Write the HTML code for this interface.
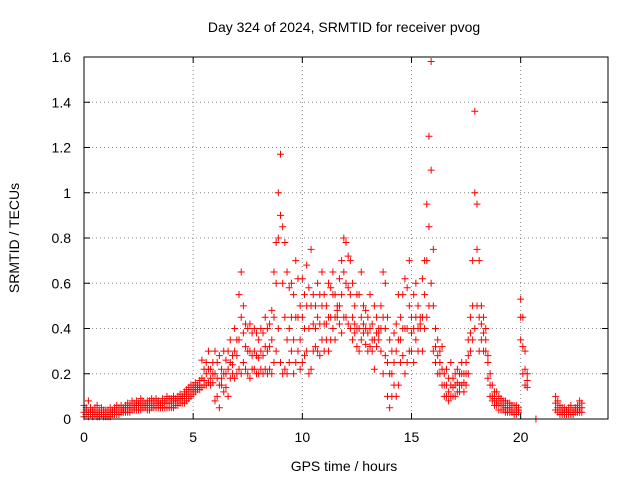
<!DOCTYPE html>
<html><head><meta charset="utf-8"><style>
body{margin:0;background:#fff}
svg text{font-family:"Liberation Sans",sans-serif;font-size:14px;fill:#000}
</style></head><body>
<svg width="640" height="480" id="c">
<rect width="640" height="480" fill="#fff"/>
<text x="344" y="32" text-anchor="middle">Day 324 of 2024, SRMTID for receiver pvog</text>
<text x="344" y="471" text-anchor="middle">GPS time / hours</text>
<text transform="translate(19,238) rotate(-90)" text-anchor="middle">SRMTID / TECUs</text>
<g id="grid"></g><g id="ticks"></g><g id="marks"></g>
<rect x="84" y="57" width="524" height="362" fill="none" stroke="#000" stroke-width="1"/>
</svg>
<script>
const xTicks=[0,5,10,15,20];
const yTicks=[0,0.2,0.4,0.6,0.8,1,1.2,1.4,1.6];
const yTickLabels=["0","0.2","0.4","0.6","0.8","1","1.2","1.4","1.6"];
const tStep=0.1;
const loVals=[.01,.02,.01,.02,.01,.02,.01,.01,.02,.01,
.01,.01,.01,.02,.02,.02,.02,.03,.03,.03,
.03,.03,.04,.04,.04,.04,.04,.05,.05,.04,
.04,.05,.05,.05,.05,.05,.05,.05,.05,.05,
.05,.05,.06,.06,.07,.07,.07,.08,.09,.1,
.11,.12,.13,.13,.14,.15,.15,.16,.15,.16,
.08,.1,.05,.15,.12,.14,.1,.18,.2,.18,
.2,.22,.2,.25,.22,.2,.18,.22,.22,.2,
.2,.22,.2,.22,.2,.22,.2,.25,.3,.4,
.25,.2,.22,.2,.25,.3,.2,.25,.3,.22,
.25,.28,.3,.2,.22,.3,.32,.3,.28,.35,
.3,.35,.3,.35,.4,.35,.45,.42,.38,.45,
.45,.42,.4,.35,.38,.32,.3,.35,.38,.33,
.3,.32,.3,.22,.32,.35,.3,.2,.28,.1,
.05,.1,.15,.1,.15,.25,.28,.2,.25,.3,
.3,.25,.35,.3,.4,.3,.4,.45,.5,.6,
.3,.25,.2,.2,.15,.1,.1,.08,.1,.1,
.1,.12,.12,.15,.12,.15,.2,.3,.35,.4,
.5,.3,.35,.3,.3,.25,.1,.08,.06,.06,
.04,.04,.04,.03,.03,.03,.03,.02,.02,.03,
.35,.2,.15,.14,null,null,null,0,null,null,
null,null,null,null,null,null,.04,.03,.02,.02,
.02,.02,.02,.02,.02,.03,.03,.03,.03];
const midVals=[.03,.04,.03,.03,.03,.03,.03,.02,.03,.02,
.03,.02,.03,.03,.03,.04,.04,.04,.04,.05,
.05,.05,.06,.05,.06,.06,.06,.06,.06,.06,
.06,.07,.06,.07,.07,.06,.07,.07,.07,.07,
.07,.08,.08,.08,.09,.09,.1,.11,.12,.13,
.13,.14,.14,.15,.18,.17,.2,.22,.18,.2,
.2,.18,.15,.18,.2,.2,.22,.25,.24,.3,
.28,.35,.45,.38,.32,.3,.3,.28,.3,.28,
.27,.3,.28,.32,.3,.32,.35,.45,.6,.8,
.9,.6,.45,.35,.4,.45,.35,.45,.45,.35,
.45,.4,.5,.4,.5,.42,.4,.45,.42,.5,
.42,.42,.45,.45,.55,.45,.48,.5,.55,.65,
.6,.58,.55,.45,.42,.4,.4,.45,.42,.4,
.38,.4,.35,.35,.38,.38,.4,.45,.4,.25,
.2,.2,.25,.3,.35,.35,.4,.4,.4,.5,
.38,.4,.45,.4,.42,.45,.55,.7,.85,1.1,
.5,.32,.28,.25,.22,.15,.15,.12,.15,.14,
.15,.16,.15,.2,.16,.2,.28,.38,.5,1.0,
.75,.45,.42,.38,.35,.18,.15,.1,.09,.08,
.07,.06,.06,.05,.05,.05,.04,.04,.04,.04,
.45,.32,.22,.17,null,null,null,null,null,null,
null,null,null,null,null,null,.07,.05,.04,.03,
.03,.03,.03,.04,.03,.04,.04,.05,.05];
const hiVals=[.06,.05,.08,.05,.04,.05,.06,.04,.05,.04,
.04,.04,.05,.04,.05,.06,.05,.06,.05,.06,
.07,.06,.08,.07,.08,.07,.09,.08,.07,.08,
.08,.09,.08,.09,.08,.07,.09,.08,.1,.09,
.09,.1,.09,.1,.11,.1,.12,.13,.14,.15,
.15,.16,.15,.17,.26,.22,.25,.3,.22,.25,
.3,.25,.28,.22,.3,.26,.3,.35,.28,.4,
.35,.55,.65,.5,.42,.4,.42,.38,.4,.38,
.35,.4,.38,.45,.4,.42,.48,.65,.78,1.0,
1.17,.85,.78,.65,.58,.6,.55,.7,.62,.5,
.62,.55,.68,.58,.75,.55,.5,.6,.55,.65,
.55,.5,.6,.58,.65,.55,.5,.62,.7,.8,
.78,.72,.7,.6,.5,.55,.55,.65,.5,.48,
.45,.55,.42,.5,.45,.4,.5,.65,.6,.45,
.35,.3,.38,.42,.55,.45,.55,.62,.58,.7,
.45,.55,.6,.5,.45,.62,.7,.95,1.25,1.58,
.75,.4,.35,.3,.32,.2,.22,.18,.25,.18,
.2,.22,.2,.25,.2,.25,.35,.45,.7,1.36,
.95,.7,.5,.45,.4,.28,.2,.15,.12,.12,
.1,.09,.08,.08,.07,.07,.06,.06,.06,.05,
.53,.45,.3,.2,null,null,null,null,null,null,
null,null,null,null,null,null,.1,.08,.06,.05,
.05,.04,.05,.06,.04,.05,.06,.08,.07];
const X0=84,X1=608,Y0=419,Y1=57,XMAX=24,YMAX=1.6;
const sx=v=>X0+v/XMAX*(X1-X0), sy=v=>Y0-v/YMAX*(Y0-Y1);
const NS="http://www.w3.org/2000/svg";
const grid=document.getElementById('grid'),ticks=document.getElementById('ticks'),marks=document.getElementById('marks');
function mk(tag,a,p){const e=document.createElementNS(NS,tag);for(const k in a)e.setAttribute(k,a[k]);p.appendChild(e);return e;}
xTicks.forEach(v=>{const x=sx(v);
 if(v>0){const g=mk('line',{x1:x,x2:x,y1:Y0,y2:Y1,stroke:'#888','stroke-dasharray':'1,3'},grid);
 
 }
 mk('line',{x1:x,x2:x,y1:Y0,y2:Y0-6,stroke:'#000'},ticks);
 mk('line',{x1:x,x2:x,y1:Y1,y2:Y1+6,stroke:'#000'},ticks);
 const t=mk('text',{x:x,y:Y0+23,'text-anchor':'middle'},ticks);t.textContent=v;
 
 });
yTicks.forEach((v,i)=>{const y=sy(v);
 if(v>0&&v<YMAX){const g=mk('line',{x1:X0,x2:X1,y1:y,y2:y,stroke:'#888','stroke-dasharray':'1,3'},grid);
 
 }
 mk('line',{x1:X0,x2:X0+6,y1:y,y2:y,stroke:'#000'},ticks);
 mk('line',{x1:X1,x2:X1-6,y1:y,y2:y,stroke:'#000'},ticks);
 const t=mk('text',{x:X0-13,y:y+5,'text-anchor':'end'},ticks);t.textContent=yTickLabels[i];
 
 });
function plus(t,v){if(v===null)return;const x=sx(t),y=sy(v);
 const p=mk('path',{d:`M${x-3.5},${y}h7M${x},${y-3.5}v7`,stroke:'#f00','stroke-width':1,fill:'none'},marks);
 
 }
loVals.forEach((v,i)=>plus(i*tStep,v));
midVals.forEach((v,i)=>plus(i*tStep,v));
hiVals.forEach((v,i)=>plus(i*tStep,v));
</script>
</body></html>
